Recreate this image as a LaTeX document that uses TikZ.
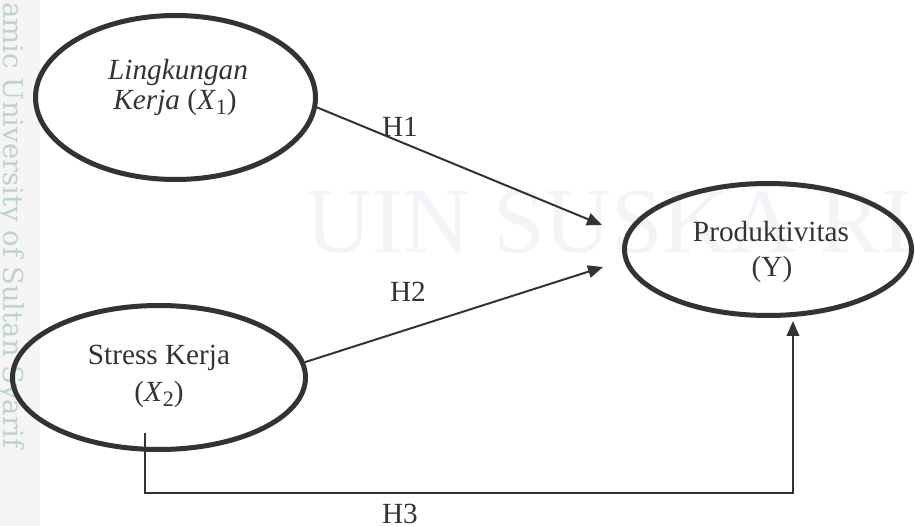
\documentclass[tikz,border=0pt]{standalone}
\usepackage{fontspec}
\setmainfont{Liberation Serif}
\newfontfamily\wmfont{DejaVu Serif}
\usetikzlibrary{shapes.geometric,arrows.meta}
\definecolor{ink}{HTML}{333333}
\definecolor{wmgreen}{RGB}{188,213,201}
\definecolor{wmfaint}{RGB}{243,243,248}
\newcommand\mysub[1]{\raisebox{-0.35ex}{\fontsize{8.8}{10}\selectfont #1}}
\begin{document}
\begin{tikzpicture}[x=0.4pt,y=-0.4pt,
  var/.style={draw=ink,line width=2pt,ellipse,inner sep=0pt},
  lbl/.style={text=ink,font=\fontsize{11.7}{14}\selectfont,anchor=base,inner sep=0pt},
  conn/.style={draw=ink,line width=0.8pt,-{Triangle[length=6pt,width=5pt]}}]
\useasboundingbox (0,0) rectangle (915,526);
\begin{scope}
\clip (0,0) rectangle (915,526);
\fill[black!4] (0,0) rectangle (40,526);
\node[rotate=-90,anchor=base west,inner sep=0pt,text=wmgreen,font=\wmfont\fontsize{11}{13}\selectfont] (wmside) at (3,2) {amic University of Sultan Syarif};
\node[anchor=base west,inner sep=0pt,text=wmfaint,font=\fontsize{37}{40}\selectfont] (wmbig) at (305,253) {UIN SUSKA RIAU};
\end{scope}
\node[var,minimum width=112pt,minimum height=65.6pt] (e1) at (175.5,97.5) {};
\node[var,minimum width=117.2pt,minimum height=57.6pt] (e2) at (159,377.5) {};
\node[var,minimum width=114.8pt,minimum height=52.8pt] (e3) at (768,249.5) {};
\node[lbl] (t1a) at (178,80) {\itshape Lingkungan};
\node[lbl] (t1b) at (175,110) {\textit{Kerja} (\textit{X}\mysub{1})};
\node[lbl] (t2a) at (159,365) {Stress Kerja};
\node[lbl] (t2b) at (159,402) {(\textit{X}\mysub{2})};
\node[lbl] (t3a) at (771,242) {Produktivitas};
\node[lbl] (t3b) at (772,277) {(Y)};
\node[lbl] (h1) at (400,137) {H1};
\node[lbl] (h2) at (408,302) {H2};
\node[lbl] (h3) at (400,523) {H3};
\coordinate (p1) at (602,225);
\coordinate (p2) at (603,267);
\coordinate (h3s) at (145,433);
\coordinate (h3c) at (145,493);
\coordinate (p3) at (793,321);
\draw[conn] (e1.-4) -- (p1);
\draw[conn] (e2.6) -- (p2);
\draw[conn] (h3s) -- (h3c) -| (p3);
\end{tikzpicture}
\end{document}
